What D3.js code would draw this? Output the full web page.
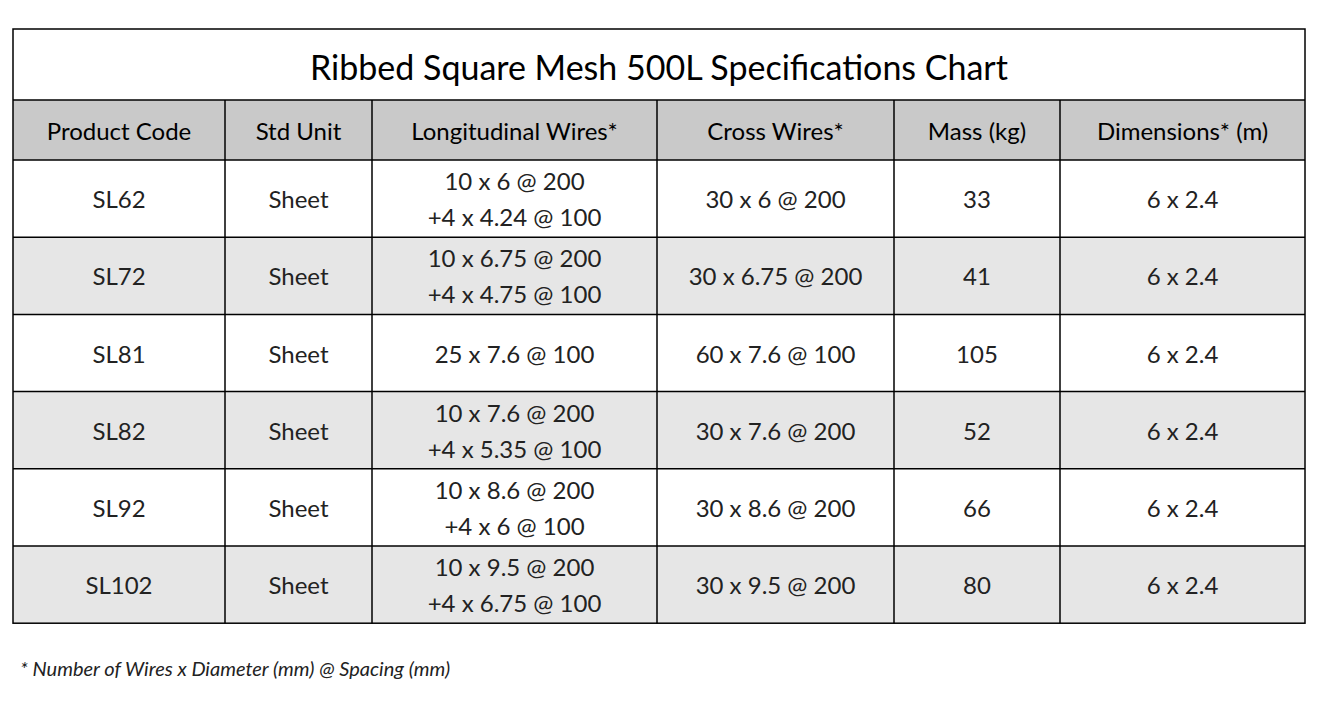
<!DOCTYPE html>
<html><head><meta charset="utf-8">
<script src="https://cdn.jsdelivr.net/npm/d3@7"></script>
<style>body{margin:0;background:#fff}</style>
</head><body>
<svg id="chart" width="1324" height="706"></svg>
<script>
const title = "Ribbed Square Mesh 500L Specifications Chart";
const headers = ["Product Code", "Std Unit", "Longitudinal Wires*", "Cross Wires*", "Mass (kg)", "Dimensions* (m)"];
const codes = ["SL62", "SL72", "SL81", "SL82", "SL92", "SL102"];
const units = ["Sheet", "Sheet", "Sheet", "Sheet", "Sheet", "Sheet"];
const longWires = [
  ["10 x 6 @ 200", "+4 x 4.24 @ 100"],
  ["10 x 6.75 @ 200", "+4 x 4.75 @ 100"],
  ["25 x 7.6 @ 100"],
  ["10 x 7.6 @ 200", "+4 x 5.35 @ 100"],
  ["10 x 8.6 @ 200", "+4 x 6 @ 100"],
  ["10 x 9.5 @ 200", "+4 x 6.75 @ 100"]
];
const crossWires = ["30 x 6 @ 200", "30 x 6.75 @ 200", "60 x 7.6 @ 100", "30 x 7.6 @ 200", "30 x 8.6 @ 200", "30 x 9.5 @ 200"];
const masses = ["33", "41", "105", "52", "66", "80"];
const dims = ["6 x 2.4", "6 x 2.4", "6 x 2.4", "6 x 2.4", "6 x 2.4", "6 x 2.4"];
const footnote = "* Number of Wires x Diameter (mm) @ Spacing (mm)";

(function(){
const colEdges = [13, 225, 372, 657, 894, 1060, 1305];
const tableTop = 29, titleH = 71, headH = 60, rowH = 77.2;
const font = "Lato, 'Open Sans', sans-serif";

const svg = d3.select("#chart");
const rows = codes.map((c, i) => [[c], [units[i]], longWires[i], [crossWires[i]], [masses[i]], [dims[i]]]);

const x = i => colEdges[i];
const headY = tableTop + titleH;
const bodyY = headY + headH;

// header background
svg.append("rect").attr("x", x(0)).attr("y", headY).attr("width", x(6) - x(0)).attr("height", headH).attr("fill", "#c9c9c9");
// body rows
const y = d3.scaleLinear().domain([0, rows.length]).range([bodyY, bodyY + rowH * rows.length]);
svg.selectAll("rect.row").data(rows).join("rect")
  .attr("class", "row")
  .attr("x", x(0)).attr("y", (d, i) => y(i))
  .attr("width", x(6) - x(0)).attr("height", rowH)
  .attr("fill", (d, i) => i % 2 ? "#e6e6e6" : "#fff");

// title
svg.append("text").attr("x", (x(0) + x(6)) / 2).attr("y", tableTop + titleH / 2 + 2)
  .attr("text-anchor", "middle").attr("dominant-baseline", "central")
  .attr("font-family", font).attr("font-size", 34).attr("fill", "#000").text(title);

// headers
svg.selectAll("text.head").data(headers).join("text")
  .attr("class", "head")
  .attr("x", (d, i) => (x(i) + x(i + 1)) / 2).attr("y", headY + headH / 2)
  .attr("text-anchor", "middle").attr("dominant-baseline", "central")
  .attr("font-family", font).attr("font-size", 24).attr("fill", "#000").text(d => d);

// cells
rows.forEach((r, ri) => {
  r.forEach((lines, ci) => {
    const cy = y(ri) + rowH / 2;
    lines.forEach((t, li) => {
      svg.append("text")
        .attr("x", (x(ci) + x(ci + 1)) / 2)
        .attr("y", cy + (li - (lines.length - 1) / 2) * 36)
        .attr("text-anchor", "middle").attr("dominant-baseline", "central")
        .attr("font-family", font).attr("font-size", 24).attr("fill", "#222").text(t);
    });
  });
});

// grid lines
const bottom = y(rows.length);
const g = svg.append("g").attr("stroke", "#000").attr("stroke-width", 1.5).attr("fill", "none");
g.append("rect").attr("x", x(0)).attr("y", tableTop).attr("width", x(6) - x(0)).attr("height", bottom - tableTop);
g.append("line").attr("x1", x(0)).attr("x2", x(6)).attr("y1", headY).attr("y2", headY);
d3.range(rows.length).forEach(i => g.append("line").attr("x1", x(0)).attr("x2", x(6)).attr("y1", y(i)).attr("y2", y(i)));
d3.range(1, 6).forEach(i => g.append("line").attr("x1", x(i)).attr("x2", x(i)).attr("y1", headY).attr("y2", bottom));

svg.append("text").attr("x", 20).attr("y", 668).attr("dominant-baseline", "central")
  .attr("font-family", font).attr("font-style", "italic").attr("font-size", 20).attr("fill", "#222").text(footnote);
})();
</script>
</body></html>
